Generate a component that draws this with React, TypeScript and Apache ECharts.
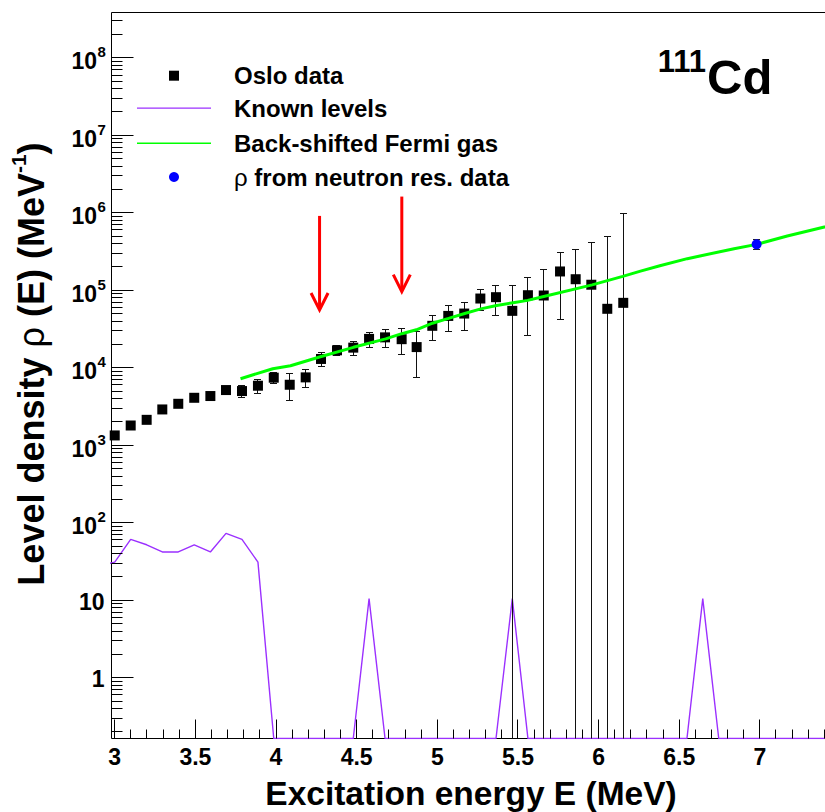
import { useEffect, useRef } from 'react';
import * as echarts from 'echarts';

const FONT = "'Liberation Sans', Arial, Helvetica, sans-serif";
const PURPLE = '#9b30ff';
const GREEN = '#00ff00';
const BLUE = '#0000ff';
const RED = '#ff0000';

const X_MIN = 2.98;
const X_MAX = 7.5;
const Y_MIN = 0.1644;
const Y_MAX = 3.846e8;

// Oslo data (excitation energy in MeV, level density in MeV^-1, error)
const osloEnergy = [3.0, 3.099, 3.198, 3.295, 3.394, 3.493, 3.593, 3.69, 3.789, 3.888, 3.986, 4.085, 4.184, 4.279, 4.378, 4.479, 4.577, 4.676, 4.779, 4.872, 4.969, 5.068, 5.167, 5.267, 5.364, 5.465, 5.562, 5.66, 5.761, 5.858, 5.955, 6.054, 6.153];
const osloRho = [1340, 1800, 2130, 2900, 3430, 4100, 4320, 5160, 5010, 5870, 7450, 6040, 7520, 13000, 16800, 18200, 23600, 24700, 23400, 18500, 34800, 46700, 50100, 78300, 81500, 54300, 86400, 85700, 175000, 139000, 118000, 57700, 68900];
const osloErr = [70, 90, 110, 150, 180, 220, 250, 400, 900, 1150, 1260, 2300, 1900, 2600, 2500, 3600, 5300, 6200, 8500, 11000, 12400, 17000, 20000, 23400, 34000, 61000, 60000, 102000, 133000, 198000, 297000, 443000, 897000];

// Known levels (histogram, drawn as a polyline)
const levelEnergy = [2.901, 3.0, 3.099, 3.198, 3.295, 3.394, 3.493, 3.593, 3.69, 3.789, 3.888, 3.986, 4.085, 4.184, 4.279, 4.378, 4.479, 4.577, 4.676, 4.779, 4.872, 4.969, 5.068, 5.167, 5.267, 5.364, 5.465, 5.562, 5.66, 5.761, 5.858, 5.955, 6.054, 6.153, 6.252, 6.351, 6.45, 6.548, 6.646, 6.745, 6.844, 6.942, 7.041, 7.139, 7.238, 7.336, 7.435, 7.534];
const levelRho = [28, 31, 61, 52, 42, 42, 52, 42, 73, 61, 31, 0, 0, 0, 0, 0, 0, 10.5, 0, 0, 0, 0, 0, 0, 0, 0, 10.5, 0, 0, 0, 0, 0, 0, 0, 0, 0, 0, 0, 10.5, 0, 0, 0, 0, 0, 0, 0, 0, 0];

// Back-shifted Fermi gas
const bsfgEnergy = [3.78, 3.98, 4.09, 4.27, 4.48, 4.68, 4.78, 4.87, 4.97, 5.07, 5.17, 5.27, 5.36, 5.47, 5.56, 5.66, 5.96, 6.15, 6.26, 6.38, 6.55, 6.84, 6.98, 7.17, 7.4, 7.5];
const bsfgRho = [7230, 9730, 10640, 13800, 18370, 23600, 27540, 30900, 37580, 43350, 50100, 57540, 63100, 69180, 74130, 83180, 117500, 151400, 176600, 207000, 256000, 344400, 391700, 501200, 654600, 730000];

// rho from neutron resonance data
const resEnergy = [6.98];
const resRho = [392000];
const resErr = [60000];

// Red arrows (energy, top value, tip value)
const arrowEnergy = [4.27, 4.78];
const arrowTop = [912000, 1620000];
const arrowTip = [55700, 96100];

// Axis ticks
const xMajorTicks = [3, 3.5, 4, 4.5, 5, 5.5, 6, 6.5, 7, 7.5];
const xTickLabels = ['3', '3.5', '4', '4.5', '5', '5.5', '6', '6.5', '7', ''];
const xMinorSteps = [0.1, 0.2, 0.3, 0.4];
const yMajorTicks = [1, 10, 100, 1e3, 1e4, 1e5, 1e6, 1e7, 1e8];
const yTickBase = ['1', '10', '10', '10', '10', '10', '10', '10', '10'];
const yTickExp = ['', '', '2', '3', '4', '5', '6', '7', '8'];
const yDecades = [0.1, 1, 10, 100, 1e3, 1e4, 1e5, 1e6, 1e7, 1e8];
const yMinorMultipliers = [2, 3, 4, 5, 6, 7, 8, 9];

const snap = (v: number) => Math.round(v - 0.5) + 0.5;

function errorBarRenderer(color: string) {
  return (params: any, api: any) => {
    const x = api.value(0);
    const v = api.value(1);
    const e = api.value(2);
    const loRaw = v - e;
    const hi = Math.min(v + e, Y_MAX);
    const lo = loRaw > Y_MIN ? loRaw : Y_MIN;
    const pHi = api.coord([x, hi]);
    const pLo = api.coord([x, lo]);
    const cx = snap(pHi[0]);
    const style = { stroke: color, lineWidth: 1 };
    const children: any[] = [
      { type: 'line', shape: { x1: cx, y1: pHi[1], x2: cx, y2: pLo[1] }, style },
      { type: 'line', shape: { x1: cx - 3.5, y1: snap(pHi[1]), x2: cx + 3.5, y2: snap(pHi[1]) }, style },
    ];
    if (loRaw > Y_MIN) {
      children.push({ type: 'line', shape: { x1: cx - 3.5, y1: snap(pLo[1]), x2: cx + 3.5, y2: snap(pLo[1]) }, style });
    }
    return { type: 'group', children };
  };
}

function buildOption() {
  const levelData = levelEnergy.map((e, i) => [e, levelRho[i] > 0 ? levelRho[i] : Y_MIN]);
  const osloPoints = osloEnergy.map((e, i) => [e, osloRho[i]]);
  const osloBars = osloEnergy.map((e, i) => [e, osloRho[i], osloErr[i]]);
  const bsfgData = bsfgEnergy.map((e, i) => [e, bsfgRho[i]]);
  const resPoints = resEnergy.map((e, i) => [e, resRho[i]]);
  const resBars = resEnergy.map((e, i) => [e, resRho[i], resErr[i]]);
  const arrows = arrowEnergy.map((e, i) => [e, arrowTop[i], arrowTip[i]]);

  const xMinor: number[][] = [];
  for (let i = 0; i < xMajorTicks.length - 1; i++) {
    xMinorSteps.forEach((s) => xMinor.push([+(xMajorTicks[i] + s).toFixed(2), Y_MIN]));
  }
  const yMinor: number[][] = [];
  yDecades.forEach((d) =>
    yMinorMultipliers.forEach((m) => {
      const v = d * m;
      if (v > Y_MIN && v < Y_MAX) yMinor.push([X_MIN, v]);
    })
  );

  const tickStyle = { stroke: '#000', lineWidth: 1 };
  const labelFont = { fontFamily: FONT, fontWeight: 'bold', fill: '#000' };

  return {
    animation: false,
    backgroundColor: '#ffffff',
    grid: {
      left: 111.5,
      top: 12.5,
      width: 729,
      height: 726,
      show: true,
      borderColor: '#000',
      borderWidth: 1,
      backgroundColor: 'transparent',
      outerBoundsMode: 'none',
    },
    xAxis: {
      type: 'value',
      min: X_MIN,
      max: X_MAX,
      axisLine: { show: false },
      axisTick: { show: false },
      axisLabel: { show: false },
      splitLine: { show: false },
    },
    yAxis: {
      type: 'log',
      logBase: 10,
      min: Y_MIN,
      max: Y_MAX,
      axisLine: { show: false },
      axisTick: { show: false },
      axisLabel: { show: false },
      splitLine: { show: false },
      minorTick: { show: false },
      minorSplitLine: { show: false },
    },
    series: [
      {
        name: 'Known levels',
        type: 'line',
        data: levelData,
        symbol: 'none',
        showSymbol: false,
        lineStyle: { color: PURPLE, width: 1.4 },
        z: 3,
        silent: true,
      },
      {
        name: 'Oslo errors',
        type: 'custom',
        data: osloBars,
        renderItem: errorBarRenderer('#111'),
        z: 4,
        silent: true,
      },
      {
        name: 'Oslo data',
        type: 'scatter',
        data: osloPoints,
        symbol: 'rect',
        symbolSize: 10,
        itemStyle: { color: '#000', opacity: 1 },
        z: 5,
        silent: true,
      },
      {
        name: 'Back-shifted Fermi gas',
        type: 'line',
        data: bsfgData,
        symbol: 'none',
        showSymbol: false,
        lineStyle: { color: GREEN, width: 3 },
        z: 6,
        silent: true,
      },
      {
        name: 'res errors',
        type: 'custom',
        data: resBars,
        renderItem: errorBarRenderer('#222'),
        z: 7,
        silent: true,
      },
      {
        name: 'rho from neutron res. data',
        type: 'scatter',
        data: resPoints,
        symbol: 'circle',
        symbolSize: 10,
        itemStyle: { color: BLUE, opacity: 1 },
        z: 8,
        silent: true,
      },
      {
        name: 'arrows',
        type: 'custom',
        data: arrows,
        z: 9,
        silent: true,
        renderItem: (params: any, api: any) => {
          const x = api.value(0);
          const pT = api.coord([x, api.value(1)]);
          const pB = api.coord([x, api.value(2)]);
          const cx = pT[0];
          return {
            type: 'group',
            children: [
              { type: 'line', shape: { x1: cx, y1: pT[1], x2: cx, y2: pB[1] - 1 }, style: { stroke: RED, lineWidth: 3 } },
              {
                type: 'polyline',
                shape: { points: [[cx - 8.5, pB[1] - 17], [cx, pB[1]], [cx + 8.5, pB[1] - 17]] },
                style: { stroke: RED, lineWidth: 3, fill: 'none' },
              },
            ],
          };
        },
      },
      {
        name: 'yMajor',
        type: 'custom',
        data: yMajorTicks.map((v) => [X_MIN, v]),
        clip: false,
        z: 10,
        silent: true,
        renderItem: (params: any, api: any) => {
          const i = params.dataIndex;
          const p = api.coord([X_MIN, api.value(1)]);
          const y = snap(p[1]);
          const x0 = p[0];
          const children: any[] = [
            { type: 'line', shape: { x1: x0, y1: y, x2: x0 + 22, y2: y }, style: tickStyle },
          ];
          if (yTickExp[i]) {
            children.push({
              type: 'text',
              x: x0 - 14.5,
              y: p[1] + 3.3,
              style: { ...labelFont, text: yTickBase[i], fontSize: 23, align: 'right', verticalAlign: 'middle' },
            });
            children.push({
              type: 'text',
              x: x0 - 14,
              y: p[1] - 6,
              style: { ...labelFont, text: yTickExp[i], fontSize: 15, align: 'left', verticalAlign: 'middle' },
            });
          } else {
            children.push({
              type: 'text',
              x: x0 - 7,
              y: p[1] + 1.5,
              style: { ...labelFont, text: yTickBase[i], fontSize: 23, align: 'right', verticalAlign: 'middle' },
            });
          }
          return { type: 'group', children };
        },
      },
      {
        name: 'yMinor',
        type: 'custom',
        data: yMinor,
        clip: false,
        z: 10,
        silent: true,
        renderItem: (params: any, api: any) => {
          const p = api.coord([X_MIN, api.value(1)]);
          const y = snap(p[1]);
          return { type: 'line', shape: { x1: p[0], y1: y, x2: p[0] + 11, y2: y }, style: tickStyle };
        },
      },
      {
        name: 'xMajor',
        type: 'custom',
        data: xMajorTicks.map((v) => [v, Y_MIN]),
        clip: false,
        z: 10,
        silent: true,
        renderItem: (params: any, api: any) => {
          const i = params.dataIndex;
          const p = api.coord([api.value(0), Y_MIN]);
          const x = snap(p[0]);
          const children: any[] = [
            { type: 'line', shape: { x1: x, y1: p[1], x2: x, y2: p[1] - 19 }, style: tickStyle },
          ];
          if (xTickLabels[i]) {
            children.push({
              type: 'text',
              x: p[0],
              y: p[1] + 18.2,
              style: { ...labelFont, text: xTickLabels[i], fontSize: 23, align: 'center', verticalAlign: 'middle' },
            });
          }
          return { type: 'group', children };
        },
      },
      {
        name: 'xMinor',
        type: 'custom',
        data: xMinor,
        clip: false,
        z: 10,
        silent: true,
        renderItem: (params: any, api: any) => {
          const p = api.coord([api.value(0), Y_MIN]);
          const x = snap(p[0]);
          return { type: 'line', shape: { x1: x, y1: p[1], x2: x, y2: p[1] - 9 }, style: tickStyle };
        },
      },
    ],
    graphic: [
      // legend
      { type: 'rect', shape: { x: 169, y: 70.7, width: 10, height: 10 }, style: { fill: '#000' } },
      { type: 'text', x: 234, y: 75.7, style: { ...labelFont, text: 'Oslo data', fontSize: 24, align: 'left', verticalAlign: 'middle' } },
      { type: 'rect', shape: { x: 137, y: 107.5, width: 74, height: 1.3 }, style: { fill: PURPLE } },
      { type: 'text', x: 234, y: 108.3, style: { ...labelFont, text: 'Known levels', fontSize: 24, align: 'left', verticalAlign: 'middle' } },
      { type: 'rect', shape: { x: 137, y: 142.5, width: 74, height: 1.5 }, style: { fill: GREEN } },
      { type: 'text', x: 234, y: 143.3, style: { ...labelFont, text: 'Back-shifted Fermi gas', fontSize: 24, align: 'left', verticalAlign: 'middle' } },
      { type: 'circle', shape: { cx: 174, cy: 177, r: 5 }, style: { fill: BLUE } },
      {
        type: 'text',
        x: 234,
        y: 177,
        style: {
          text: '{r|ρ}{b| from neutron res. data}',
          align: 'left',
          verticalAlign: 'middle',
          rich: {
            r: { fontFamily: FONT, fontSize: 24, fill: '#000' },
            b: { fontFamily: FONT, fontWeight: 'bold', fontSize: 24, fill: '#000' },
          },
        },
      },
      // nucleus label
      { type: 'text', x: 706, y: 61, style: { ...labelFont, text: '111', fontSize: 31, align: 'right', verticalAlign: 'middle' } },
      { type: 'text', x: 707, y: 77, style: { ...labelFont, text: 'Cd', fontSize: 49, align: 'left', verticalAlign: 'middle' } },
      // axis titles
      {
        type: 'text',
        x: 471,
        y: 793.5,
        style: { ...labelFont, text: 'Excitation energy E (MeV)', fontSize: 33.5, align: 'center', verticalAlign: 'middle' },
      },
      {
        type: 'text',
        x: 31,
        y: 364,
        rotation: Math.PI / 2,
        style: {
          text: '{b|Level density }{r|ρ}{b| (E) (MeV}{s|-1}{b|)}',
          align: 'center',
          verticalAlign: 'middle',
          rich: {
            b: { fontFamily: FONT, fontWeight: 'bold', fontSize: 36, lineHeight: 46, fill: '#000' },
            r: { fontFamily: FONT, fontSize: 36, lineHeight: 46, fill: '#000' },
            s: { fontFamily: FONT, fontWeight: 'bold', fontSize: 21, verticalAlign: 'top', fill: '#000' },
          },
        },
      },
    ],
  };
}

export default function App() {
  const ref = useRef<HTMLDivElement>(null);
  useEffect(() => {
    document.body.style.margin = '0';
    if (!ref.current) return;
    const chart = echarts.init(ref.current, undefined, { renderer: 'svg' });
    chart.setOption(buildOption() as any);
    return () => {
      chart.dispose();
    };
  }, []);
  return <div ref={ref} style={{ width: 825, height: 812, overflow: 'hidden' }} />;
}
